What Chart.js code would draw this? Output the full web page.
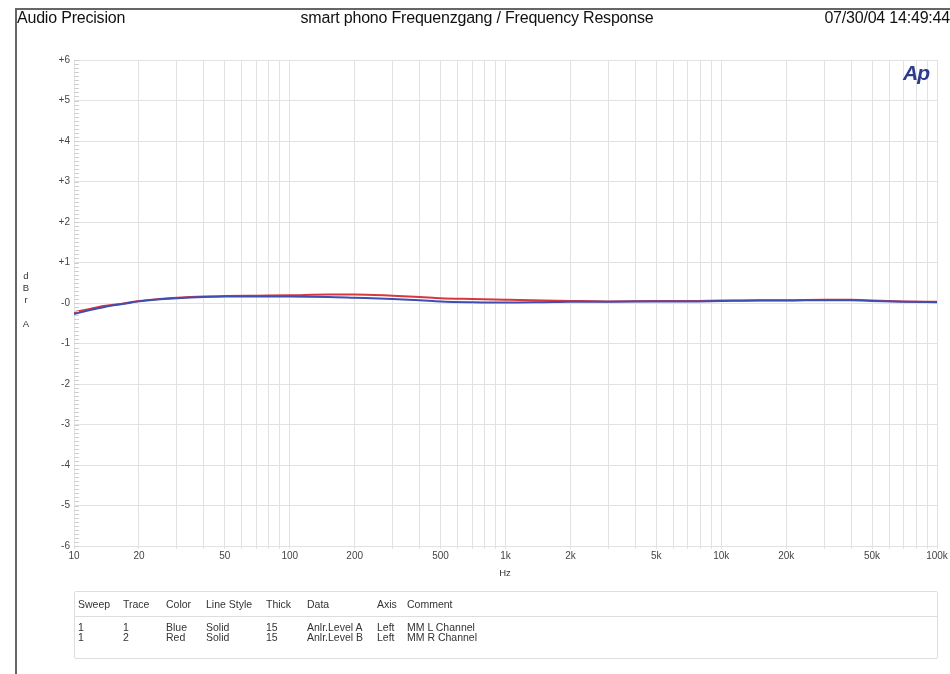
<!DOCTYPE html>
<html>
<head>
<meta charset="utf-8">
<script src="https://cdn.jsdelivr.net/npm/chart.js@4/dist/chart.umd.min.js"></script>
<style>
  body { margin: 0; background: #fff; width: 950px; height: 674px; overflow: hidden; position: relative;
         font-family: "Liberation Sans", Arial, sans-serif; color: #222; }
  #plot { position: absolute; left: 0; top: 0; }
  .frame-top { position: absolute; left: 16px; top: 8px; width: 934px; height: 0; border-top: 2px solid #666; }
  .frame-left { position: absolute; left: 15px; top: 8px; width: 0; height: 666px; border-left: 2px solid #666; }
  .hdr { position: absolute; top: 9px; font-size: 16px; line-height: 18px; white-space: nowrap; color: #111; letter-spacing: -0.2px; }
  .ylab { position: absolute; left: 21px; top: 270px; font-size: 9.5px; line-height: 12px; color: #333; text-align: center; width: 10px; }
  .xlab { position: absolute; left: 490px; top: 567px; width: 30px; text-align: center; font-size: 9.5px; color: #333; }
  .logo { position: absolute; left: 903px; top: 61px; font-size: 21px; font-weight: bold; font-style: italic;
          color: #2d3a8e; letter-spacing: -1px; line-height: 24px; }
  .tbl { position: absolute; left: 74px; top: 591px; width: 862px; height: 66px; border: 1px solid #ddd; border-radius: 2px; }
  .tbl .sep { position: absolute; left: 0; top: 24px; width: 100%; border-top: 1px solid #ddd; }
  .cell { position: absolute; font-size: 10.5px; line-height: 10px; white-space: nowrap; color: #333; }
</style>
</head>
<body>
<canvas id="plot" width="950" height="674"></canvas>
<div class="frame-top"></div>
<div class="frame-left"></div>
<div class="hdr" style="left:17px">Audio Precision</div>
<div class="hdr" style="left:477px; transform: translateX(-50%)">smart phono Frequenzgang / Frequency Response</div>
<div class="hdr" style="right:0px">07/30/04 14:49:44</div>
<div class="ylab">d<br>B<br>r<br><br>A</div>
<div class="xlab">Hz</div>
<div class="logo">Ap</div>
<div class="tbl" id="tbl"><div class="sep"></div></div>
<script>
// measured sweep, 10 Hz .. 100 kHz
const freqs = [10, 12, 14, 17, 20, 25, 30, 40, 50, 70, 100, 150, 200, 300, 400, 500, 700,
  1000, 1500, 2000, 3000, 5000, 7000, 10000, 15000, 20000, 30000, 40000, 50000, 70000, 100000];
const levelA = [-0.27, -0.17, -0.09, -0.02, 0.04, 0.09, 0.12, 0.15, 0.16, 0.16, 0.16, 0.15, 0.13, 0.10, 0.07, 0.04, 0.02,
  0.01, 0.02, 0.03, 0.03, 0.04, 0.04, 0.05, 0.06, 0.06, 0.07, 0.07, 0.05, 0.03, 0.02];
const levelB = [-0.23, -0.14, -0.07, -0.01, 0.05, 0.10, 0.13, 0.16, 0.17, 0.18, 0.19, 0.21, 0.21, 0.18, 0.15, 0.12, 0.10,
  0.08, 0.06, 0.05, 0.04, 0.05, 0.05, 0.06, 0.07, 0.07, 0.08, 0.08, 0.06, 0.04, 0.03];

const xTickValues = [10, 20, 50, 100, 200, 500, 1000, 2000, 5000, 10000, 20000, 50000, 100000];
const xTickLabels = ['10', '20', '50', '100', '200', '500', '1k', '2k', '5k', '10k', '20k', '50k', '100k'];

const tableHeaders = ['Sweep', 'Trace', 'Color', 'Line Style', 'Thick', 'Data', 'Axis', 'Comment'];
const tableRows = [
  ['1', '1', 'Blue', 'Solid', '15', 'Anlr.Level A', 'Left', 'MM L Channel'],
  ['1', '2', 'Red', 'Solid', '15', 'Anlr.Level B', 'Left', 'MM R Channel'],
];

const COLS = [3, 48, 91, 131, 191, 232, 302, 332];
const tbl = document.getElementById('tbl');
function addCell(text, x, y) {
  const d = document.createElement('div');
  d.className = 'cell';
  d.style.left = x + 'px';
  d.style.top = y + 'px';
  d.textContent = text;
  tbl.appendChild(d);
}
tableHeaders.forEach((h, i) => addCell(h, COLS[i], 7));
tableRows.forEach((row, r) => row.forEach((t, i) => addCell(t, COLS[i], 30 + r * 10)));

// every 1..9 x decade gets a grid line
const gridFreqs = [];
for (let d = 10; d < 100000; d *= 10) for (let m = 1; m < 10; m++) gridFreqs.push(d * m);
gridFreqs.push(100000);

const isInt = (v) => Math.abs(v - Math.round(v)) < 1e-6;

// short hatch marks along the left edge of the plot
const yHatch = {
  id: 'yHatch',
  afterDraw(chart) {
    const y = chart.scales.y;
    const ctx = chart.ctx;
    ctx.save();
    ctx.strokeStyle = '#cfcfcf';
    ctx.lineWidth = 1;
    ctx.beginPath();
    for (const t of y.ticks) {
      const py = Math.round(y.getPixelForValue(t.value)) + 0.5;
      ctx.moveTo(chart.chartArea.left, py);
      ctx.lineTo(chart.chartArea.left + 5, py);
    }
    ctx.stroke();
    ctx.restore();
  },
};

// dataset 0 is painted last (on top)
new Chart(document.getElementById('plot').getContext('2d'), {
  type: 'line',
  data: {
    datasets: [
      {
        label: 'Anlr.Level A',
        data: freqs.map((f, i) => ({ x: f, y: levelA[i] })),
        borderColor: '#3d4fb0',
        borderWidth: 2,
        pointRadius: 0,
        cubicInterpolationMode: 'monotone',
      },
      {
        label: 'Anlr.Level B',
        data: freqs.map((f, i) => ({ x: f, y: levelB[i] })),
        borderColor: '#d8373f',
        borderWidth: 2,
        pointRadius: 0,
        cubicInterpolationMode: 'monotone',
      },
    ],
  },
  options: {
    responsive: false,
    animation: false,
    devicePixelRatio: 1,
    layout: { padding: { left: 0, right: 13, top: 60, bottom: 0 } },
    plugins: { legend: { display: false }, tooltip: { enabled: false } },
    scales: {
      x: {
        type: 'logarithmic',
        min: 10,
        max: 100000,
        afterFit: (s) => { s.height = 128; },
        afterBuildTicks: (s) => { s.ticks = gridFreqs.map((v) => ({ value: v })); },
        grid: { color: '#e2e2e2', tickColor: '#e2e2e2', tickLength: 3 },
        border: { color: '#e2e2e2' },
        ticks: {
          autoSkip: false,
          maxRotation: 0,
          padding: 1,
          color: '#444',
          font: { family: '"Liberation Sans", Arial', size: 10 },
          callback: (v) => {
            const i = xTickValues.findIndex((t) => Math.abs(t - v) < 1e-6);
            return i >= 0 ? xTickLabels[i] : '';
          },
        },
      },
      y: {
        min: -6,
        max: 6,
        afterFit: (s) => { s.width = 74; },
        grid: {
          color: (c) => (isInt(c.tick.value) ? '#e2e2e2' : 'rgba(0,0,0,0)'),
          drawTicks: false,
        },
        border: { color: '#e2e2e2' },
        ticks: {
          stepSize: 0.1,
          autoSkip: false,
          maxTicksLimit: 200,
          padding: 4,
          color: '#444',
          font: { family: '"Liberation Sans", Arial', size: 10 },
          callback: (v) => {
            if (!isInt(v)) return '';
            const r = Math.round(v);
            return r > 0 ? '+' + r : r === 0 ? '-0' : String(r);
          },
        },
      },
    },
  },
  plugins: [yHatch],
});
</script>
</body>
</html>
